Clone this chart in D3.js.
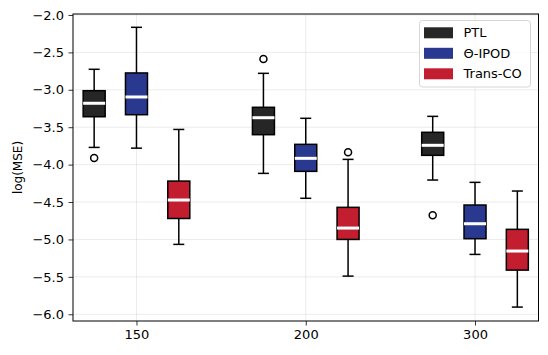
<!DOCTYPE html>
<html>
<head>
<meta charset="utf-8">
<script src="https://cdn.jsdelivr.net/npm/d3@7"></script>
<style>
  body { margin: 0; background: #fff; }
  svg { font-family: "DejaVu Sans", sans-serif; }
</style>
</head>
<body>
<svg></svg>
<script>
let width = 548;
let height = 355;
let margin = {top: 14, right: 9.5, bottom: 34, left: 73};

let categories = ['150', '200', '300'];
let methods = ['PTL', 'Θ-IPOD', 'Trans-CO'];
let colors = ['#262626', '#2a3990', '#c21e2f'];

// [lower whisker, q1, median, q3, upper whisker] for each sample size
let ptlStats = [
    [-3.77, -3.36, -3.18, -3.012, -2.726],
    [-4.117, -3.60, -3.373, -3.234, -2.78],
    [-4.206, -3.876, -3.742, -3.568, -3.355]
];
let ipodStats = [
    [-3.78, -3.333, -3.096, -2.775, -2.165],
    [-4.45, -4.09, -3.916, -3.729, -3.381],
    [-5.2, -4.99, -4.79, -4.54, -4.237]
];
let transStats = [
    [-5.066, -4.72, -4.473, -4.22, -3.53],
    [-5.49, -5.0, -4.848, -4.571, -3.93],
    [-5.904, -5.41, -5.155, -4.865, -4.353]
];
let ptlOutliers = [[-3.91], [-2.59], [-4.678]];
let ipodOutliers = [[], [], []];
let transOutliers = [[], [-3.836], []];

let yTicks = [-2.0, -2.5, -3.0, -3.5, -4.0, -4.5, -5.0, -5.5, -6.0];

let allStats = [ptlStats, ipodStats, transStats];
let allOutliers = [ptlOutliers, ipodOutliers, transOutliers];
let offsets = [-0.25, 0, 0.25];
let boxWidth = 0.13;
let fontSize = 13;

let xScale = d3.scaleLinear()
    .domain([0.625, 3.375])
    .range([margin.left, width - margin.right]);

let yScale = d3.scaleLinear()
    .domain([-6.09, -1.987])
    .range([height - margin.bottom, margin.top]);

let svg = d3.select('svg')
    .attr('width', width)
    .attr('height', height);

let fmt = d => d3.format('.1f')(d).replace('-', '\u2212');

// grid
svg.append('g')
    .selectAll('line')
    .data(yTicks)
    .enter()
    .append('line')
        .attr('x1', margin.left)
        .attr('x2', width - margin.right)
        .attr('y1', d => yScale(d))
        .attr('y2', d => yScale(d))
        .attr('stroke', '#b0b0b0')
        .attr('stroke-opacity', 0.3)
        .attr('stroke-width', 0.8);

svg.append('g')
    .selectAll('line')
    .data(categories)
    .enter()
    .append('line')
        .attr('x1', (d, i) => xScale(i + 1))
        .attr('x2', (d, i) => xScale(i + 1))
        .attr('y1', margin.top)
        .attr('y2', height - margin.bottom)
        .attr('stroke', '#b0b0b0')
        .attr('stroke-opacity', 0.3)
        .attr('stroke-width', 0.8);

let xAxis = d3.axisBottom(xScale)
    .tickValues([1, 2, 3])
    .tickFormat((d, i) => categories[i])
    .tickSize(4.5)
    .tickSizeOuter(0)
    .tickPadding(4.5);

let yAxis = d3.axisLeft(yScale)
    .tickValues(yTicks)
    .tickFormat(fmt)
    .tickSize(4.5)
    .tickSizeOuter(0)
    .tickPadding(4.5);

// boxes
methods.forEach((m, k) => {
    let g = svg.append('g');
    allStats[k].forEach((s, i) => {
        let cx = xScale(i + 1 + offsets[k]);
        let half = (xScale(boxWidth) - xScale(0)) / 2;
        let cap = half / 2;
        g.append('line')
            .attr('x1', cx).attr('x2', cx)
            .attr('y1', yScale(s[0])).attr('y2', yScale(s[1]))
            .attr('stroke', 'black').attr('stroke-width', 1.5);
        g.append('line')
            .attr('x1', cx).attr('x2', cx)
            .attr('y1', yScale(s[3])).attr('y2', yScale(s[4]))
            .attr('stroke', 'black').attr('stroke-width', 1.5);
        [s[0], s[4]].forEach(v => {
            g.append('line')
                .attr('x1', cx - cap).attr('x2', cx + cap)
                .attr('y1', yScale(v)).attr('y2', yScale(v))
                .attr('stroke', 'black').attr('stroke-width', 1.5);
        });
        g.append('rect')
            .attr('x', cx - half)
            .attr('y', yScale(s[3]))
            .attr('width', half * 2)
            .attr('height', yScale(s[1]) - yScale(s[3]))
            .attr('fill', colors[k])
            .attr('stroke', 'black')
            .attr('stroke-width', 1.5);
        g.append('line')
            .attr('x1', cx - half).attr('x2', cx + half)
            .attr('y1', yScale(s[2])).attr('y2', yScale(s[2]))
            .attr('stroke', 'white').attr('stroke-width', 3);
        g.selectAll('circle.o' + i)
            .data(allOutliers[k][i])
            .enter()
            .append('circle')
                .attr('cx', cx)
                .attr('cy', d => yScale(d))
                .attr('r', 3.5)
                .attr('fill', 'none')
                .attr('stroke', 'black')
                .attr('stroke-width', 1.5);
    });
});

let gx = svg.append('g')
    .attr('transform', `translate(0, ${height - margin.bottom})`)
    .call(xAxis);

let gy = svg.append('g')
    .attr('transform', `translate(${margin.left}, 0)`)
    .call(yAxis);

[gx, gy].forEach(g => {
    g.select('.domain').remove();
    g.selectAll('text').attr('font-size', fontSize).attr('fill', '#000').attr('font-family', '"DejaVu Sans", sans-serif');
    g.selectAll('line').attr('stroke', '#000').attr('stroke-width', 0.8);
});

// frame
svg.append('rect')
    .attr('x', margin.left)
    .attr('y', margin.top)
    .attr('width', width - margin.left - margin.right)
    .attr('height', height - margin.top - margin.bottom)
    .attr('fill', 'none')
    .attr('stroke', 'black')
    .attr('stroke-width', 1);

svg.append('text')
    .attr('transform', 'rotate(-90)')
    .attr('x', -(margin.top + height - margin.bottom) / 2)
    .attr('y', 21.5)
    .style('text-anchor', 'middle')
    .attr('font-size', 12)
    .text('log(MSE)');

// legend
let legend = svg.append('g')
    .attr('transform', 'translate(419.5, 20.5)');

legend.append('rect')
    .attr('width', 111)
    .attr('height', 66.5)
    .attr('rx', 3)
    .attr('fill', 'white')
    .attr('fill-opacity', 0.8)
    .attr('stroke', '#cccccc')
    .attr('stroke-width', 0.8);

let items = legend.selectAll('g.item')
    .data(methods)
    .enter()
    .append('g')
        .attr('transform', (d, i) => `translate(0, ${6.8 + i * 20.5})`);

items.append('rect')
    .attr('x', 4.5)
    .attr('width', 29)
    .attr('height', 11)
    .attr('fill', (d, i) => colors[i]);

items.append('text')
    .attr('x', 44)
    .attr('y', 5.5)
    .attr('dy', '0.35em')
    .attr('font-size', fontSize)
    .text(d => d);
</script>
</body>
</html>
